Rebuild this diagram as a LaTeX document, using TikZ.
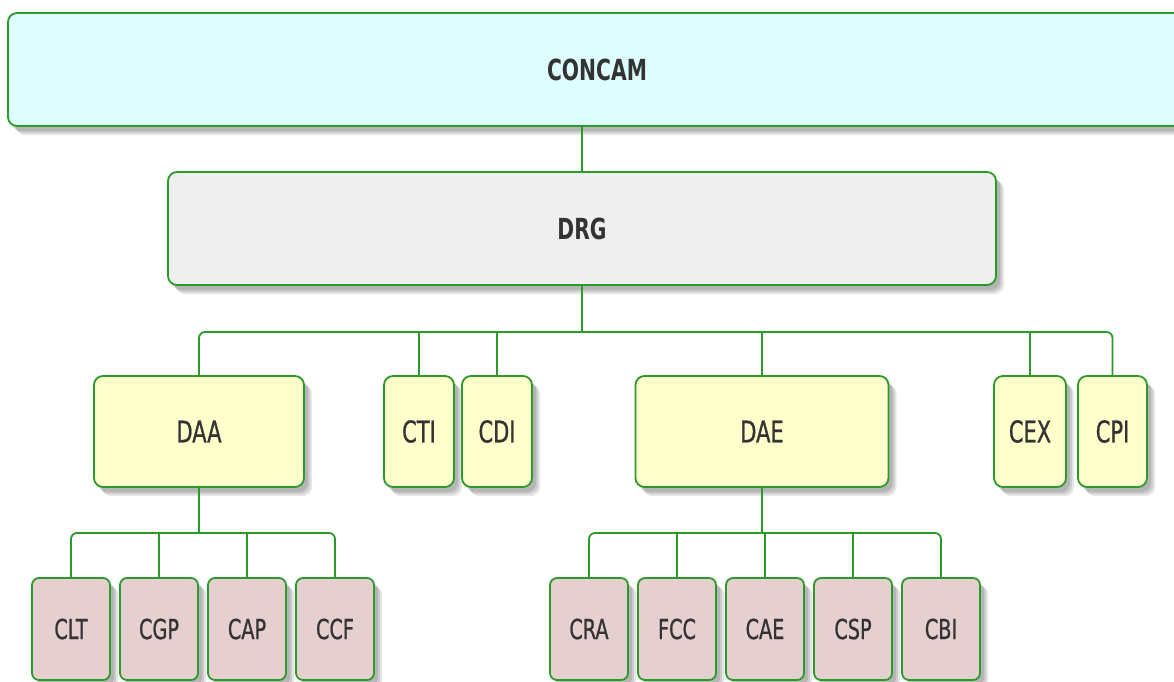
\documentclass[tikz,border=0pt]{standalone}
\usepackage{fontspec}
\setmainfont{DejaVu Sans}[FakeStretch=0.7]
\newfontfamily\labelfont{DejaVu Sans}[FakeStretch=0.7, FakeBold=0.8]
\usepackage{tikz}
\usetikzlibrary{positioning,shadows}

\definecolor{boxline}{HTML}{2A9A2A}
\definecolor{labelgray}{HTML}{333333}
\definecolor{topfill}{HTML}{DDFDFE}
\definecolor{boardfill}{HTML}{EFEFEF}
\definecolor{deptfill}{HTML}{FFFFCC}
\definecolor{unitfill}{HTML}{E6D0CF}

\begin{document}
\begin{tikzpicture}[x=1pt, y=-1pt, node distance=10pt]
\tikzstyle{box}=[rectangle,
                 draw=boxline,
                 line width=1.8pt,
                 text=labelgray,
                 inner sep=0pt,
                 outer sep=0pt,
                 rounded corners=9pt,
                 drop shadow={shadow xshift=8pt, shadow yshift=-9pt,
                              opacity=0.2},
                 drop shadow={shadow xshift=6pt, shadow yshift=-7pt,
                              opacity=0.25},
                 drop shadow={shadow xshift=4pt, shadow yshift=-5pt,
                              opacity=0.3}]
\tikzstyle{head}=[box, minimum height=113pt,
                  font=\fontsize{29}{32}\selectfont\bfseries]
\tikzstyle{dept}=[box, fill=deptfill, minimum height=111pt,
                  font=\fontsize{30}{33}\labelfont]
\tikzstyle{unit}=[box, fill=unitfill, minimum height=102pt,
                  minimum width=78pt, rounded corners=7pt,
                  font=\fontsize{27.5}{30}\labelfont]
\tikzstyle{link}=[draw=boxline, line width=1.8pt]

\useasboundingbox (0,0) rectangle (1174,681);

\node[head, fill=topfill, minimum width=1178pt] (concam) at (597,69.5) {CONCAM};
\node[head, fill=boardfill, minimum width=828pt] (drg) at (582,228.5) {DRG};

\node[dept, minimum width=210pt] (daa) at (199,431.5) {DAA};
\node[dept, minimum width=70pt] (cti) at (419,431.5) {CTI};
\node[dept, minimum width=70pt, right=8pt of cti] (cdi) {CDI};
\node[dept, minimum width=253pt] (dae) at (762,431.5) {DAE};
\node[dept, minimum width=72pt] (cex) at (1030,431.5) {CEX};
\node[dept, minimum width=69pt, right=12pt of cex] (cpi) {CPI};

\node[unit] (clt) at (71,629) {CLT};
\node[unit, right=of clt] (cgp) {CGP};
\node[unit, right=of cgp] (cap) {CAP};
\node[unit, right=of cap] (ccf) {CCF};

\node[unit] (cra) at (589,629) {CRA};
\node[unit, right=of cra] (fcc) {FCC};
\node[unit, right=of fcc] (cae) {CAE};
\node[unit, right=of cae] (csp) {CSP};
\node[unit, right=of csp] (cbi) {CBI};

% top of the tree
\draw[link] (concam.south -| drg.north) -- (drg.north);
\draw[link] (drg.south) -- ++(0,47) coordinate (bus);
\draw[link, rounded corners=6pt] (daa.north) |- (bus) -| (cpi.north);
\foreach \n in {cti,cdi,dae,cex}
  \draw[link] (\n.north) -- (\n.north |- bus);

% DAA units
\draw[link] (daa.south) -- ++(0,46) coordinate (busa);
\draw[link, rounded corners=6pt] (clt.north) |- (busa) -| (ccf.north);
\foreach \n in {cgp,cap}
  \draw[link] (\n.north) -- (\n.north |- busa);

% DAE units
\draw[link] (dae.south) -- ++(0,46) coordinate (buse);
\draw[link, rounded corners=6pt] (cra.north) |- (buse) -| (cbi.north);
\foreach \n in {fcc,cae,csp}
  \draw[link] (\n.north) -- (\n.north |- buse);
\end{tikzpicture}
\end{document}
